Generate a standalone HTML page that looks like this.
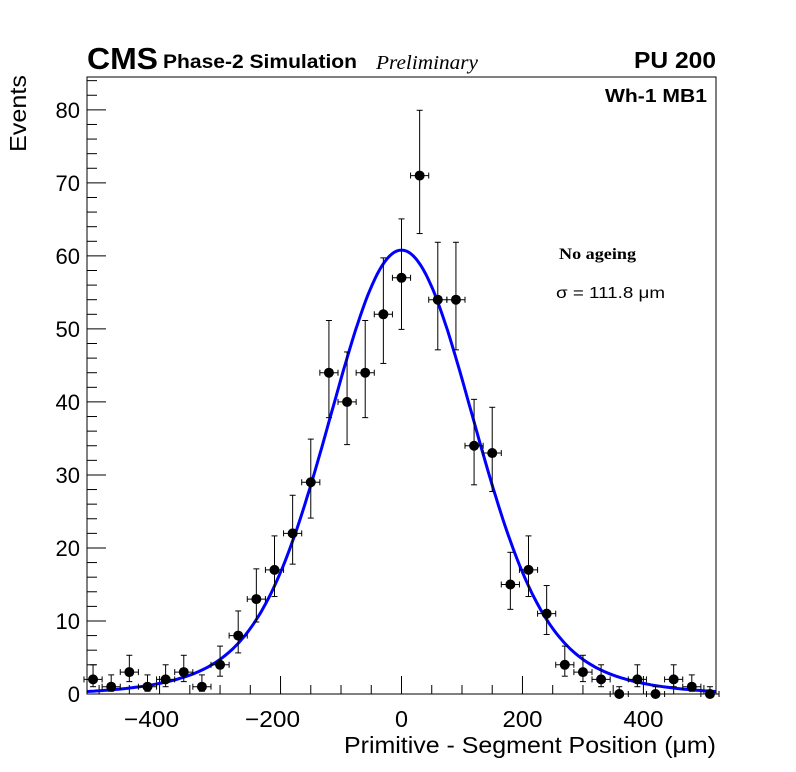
<!DOCTYPE html>
<html><head><meta charset="utf-8"><style>
body{margin:0;background:#fff;}
svg{display:block;font-family:"Liberation Sans",sans-serif;}
</style></head><body>
<svg id="chart" width="796" height="772" xmlns="http://www.w3.org/2000/svg">
<rect x="0" y="0" width="796" height="772" fill="#fff"/>
<g id="ticks"></g>
<g id="curve"></g>
<g id="points"></g>
<rect x="87" y="77" width="629" height="617" fill="none" stroke="#000" stroke-width="1"/>
<text x="87" y="69" font-size="31" font-weight="bold" textLength="71" lengthAdjust="spacingAndGlyphs">CMS</text>
<text x="163" y="68" font-size="19" font-weight="bold" textLength="194" lengthAdjust="spacingAndGlyphs">Phase-2 Simulation</text>
<text x="376" y="69" font-size="20" font-style="italic" font-family="Liberation Serif,serif" textLength="102" lengthAdjust="spacingAndGlyphs">Preliminary</text>
<text x="716" y="68" font-size="23" font-weight="bold" text-anchor="end" textLength="82" lengthAdjust="spacingAndGlyphs">PU 200</text>
<text x="707" y="102" font-size="18" font-weight="bold" text-anchor="end" textLength="102" lengthAdjust="spacingAndGlyphs">Wh-1 MB1</text>
<text x="559" y="259" font-size="16" font-weight="bold" font-family="Liberation Serif,serif" textLength="77" lengthAdjust="spacingAndGlyphs">No ageing</text>
<text x="556" y="298" font-size="16" textLength="109" lengthAdjust="spacingAndGlyphs">σ = 111.8 μm</text>
<text transform="translate(26,152) rotate(-90)" font-size="23" text-anchor="start" textLength="77" lengthAdjust="spacingAndGlyphs">Events</text>
<text x="716" y="753" font-size="23" text-anchor="end" textLength="372" lengthAdjust="spacingAndGlyphs">Primitive - Segment Position (μm)</text>
</svg>
<script>
const binCenters=[-510,-480,-450,-420,-390,-360,-330,-300,-270,-240,-210,-180,-150,-120,-90,-60,-30,0,30,60,90,120,150,180,210,240,270,300,330,360,390,420,450,480,510];
const counts=[2,1,3,1,2,3,1,4,8,13,17,22,29,44,40,44,52,57,71,54,54,34,33,15,17,11,4,3,2,0,2,0,2,1,0];
const xTicks=[-400,-200,0,200,400];
const yTicks=[0,10,20,30,40,50,60,70,80];
const fitCore=[50.8,0,113];
const fitTail=[10,0,200];
const binWidth=30;
const X0=87,X1=716,Y0=694,Y1=77,XMIN=-520,XMAX=520,YMIN=0,YMAX=84.5;
const sx=v=>X0+(v-XMIN)/(XMAX-XMIN)*(X1-X0);
const sy=v=>Y0-(v-YMIN)/(YMAX-YMIN)*(Y0-Y1);
const NS='http://www.w3.org/2000/svg';
function mk(t,a,p){const e=document.createElementNS(NS,t);for(const k in a)e.setAttribute(k,a[k]);p.appendChild(e);return e;}
const tg=document.getElementById('ticks');
for(let v=-500;v<=500;v+=50){const major=v%200===0;const l=mk('line',{x1:sx(v),x2:sx(v),y1:Y0,y2:Y0-(major?18:9),stroke:'#000'},tg);

}
xTicks.forEach(v=>{const s=(v<0?'\u2212':'')+Math.abs(v);const t=mk('text',{x:sx(v)-(v<0?8:0),y:727,'font-size':23,'text-anchor':'middle',textLength:(v<0?55:(v===0?13:40)),lengthAdjust:'spacingAndGlyphs'},tg);t.textContent=s;

});
for(let v=0;v<=84;v+=2){const major=v%10===0;const l=mk('line',{x1:X0,x2:X0+(major?19:10),y1:sy(v),y2:sy(v),stroke:'#000'},tg);

}
yTicks.forEach(v=>{const t=mk('text',{x:80,y:sy(v)+8,'font-size':22,'text-anchor':'end'},tg);t.textContent=v;

});
const g=(p,x)=>p[0]*Math.exp(-((x-p[1])**2)/(2*p[2]*p[2]));
let d='';for(let x=XMIN;x<=XMAX;x+=4){d+=(d?'L':'M')+sx(x).toFixed(1)+','+sy(g(fitCore,x)+g(fitTail,x)).toFixed(1);}
const cp=mk('path',{d:d,fill:'none',stroke:'#0000ff','stroke-width':3},document.getElementById('curve'));


const pg=document.getElementById('points');
binCenters.forEach((c,i)=>{const n=counts[i];const r=Math.sqrt(n+0.25);const lo=Math.max(0,n+0.5-r),hi=n+0.5+r;const grp=mk('g',{},pg);


const x=sx(c),y=sy(n);
mk('line',{x1:x,x2:x,y1:sy(lo),y2:sy(hi),stroke:'#000'},grp);
if(n>0)mk('line',{x1:x-3,x2:x+3,y1:sy(lo),y2:sy(lo),stroke:'#000'},grp);
mk('line',{x1:x-3,x2:x+3,y1:sy(hi),y2:sy(hi),stroke:'#000'},grp);
mk('line',{x1:sx(c-binWidth/2),x2:sx(c+binWidth/2),y1:y,y2:y,stroke:'#000'},grp);
mk('line',{x1:sx(c-binWidth/2),x2:sx(c-binWidth/2),y1:y-3,y2:y+3,stroke:'#000'},grp);
mk('line',{x1:sx(c+binWidth/2),x2:sx(c+binWidth/2),y1:y-3,y2:y+3,stroke:'#000'},grp);
mk('circle',{cx:x,cy:y,r:5,fill:'#000'},grp);});
</script>
</body></html>
